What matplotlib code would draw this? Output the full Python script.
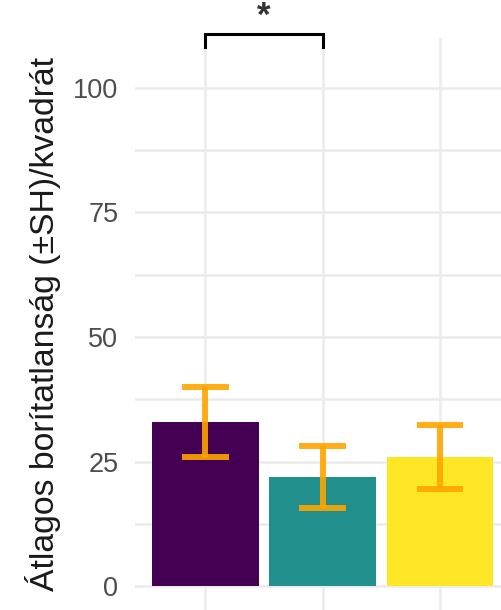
import matplotlib
matplotlib.use("Agg")
import matplotlib.pyplot as plt
import numpy as np

# data
groups = ["A", "B", "C"]
means = [33.0, 21.9, 25.9]
se = [7.0, 6.3, 6.4]
bar_colors = ["#440154", "#21908C", "#FDE725"]
yticks = [0, 25, 50, 75, 100]
ylabel = "Átlagos borítatlanság (±SH)/kvadrát"
sig_pair = (0, 1)
sig_y = 110.8
sig_label = "*"

plt.rcParams['font.family'] = ['Liberation Sans', 'DejaVu Sans']

fig = plt.figure(figsize=(5.01, 6.10), dpi=100)
ax = fig.add_axes([135/501, 0, 1 - 135/501, (610 - 38)/610])

x = np.arange(len(groups))
ax.bar(x, means, width=0.91, color=bar_colors, zorder=2)

lo = np.array(means) - np.array(se)
hi = np.array(means) + np.array(se)
ekw = dict(color="#FFA500", lw=4.3, alpha=0.9, zorder=3)
ax.vlines(x, lo, hi, **ekw)
ax.hlines(lo, x - 0.2, x + 0.2, **ekw)
ax.hlines(hi, x - 0.2, x + 0.2, **ekw)

ax.set_xlim(-0.6, 2.52)
ax.set_ylim(-4.8, 110)
ax.set_yticks(yticks)
ax.set_yticks([12.5, 37.5, 62.5, 87.5], minor=True)
ax.set_xticks(x)
ax.set_xticklabels([])
ax.grid(True, which="both", color="#EBEBEB", lw=1.8, zorder=0)
ax.set_axisbelow(True)
for s in ax.spines.values():
    s.set_visible(False)
ax.tick_params(which="both", length=0)
ax.tick_params(axis="y", labelsize=19.5, labelcolor="#4D4D4D", pad=12)
ax.set_ylabel(ylabel, fontsize=24.3, color="#1A1A1A", labelpad=9)

# significance bracket
x1, x2 = sig_pair
ax.plot([x1, x1, x2, x2], [sig_y - 2.6, sig_y, sig_y, sig_y - 2.6],
        color="black", lw=2.2, clip_on=False, solid_joinstyle="miter")
ax.text((x1 + x2)/2, 114.4, sig_label, ha="center", va="center",
        fontsize=25, fontweight="bold", color="#333333", clip_on=False)

fig.savefig("out.png", dpi=100)
